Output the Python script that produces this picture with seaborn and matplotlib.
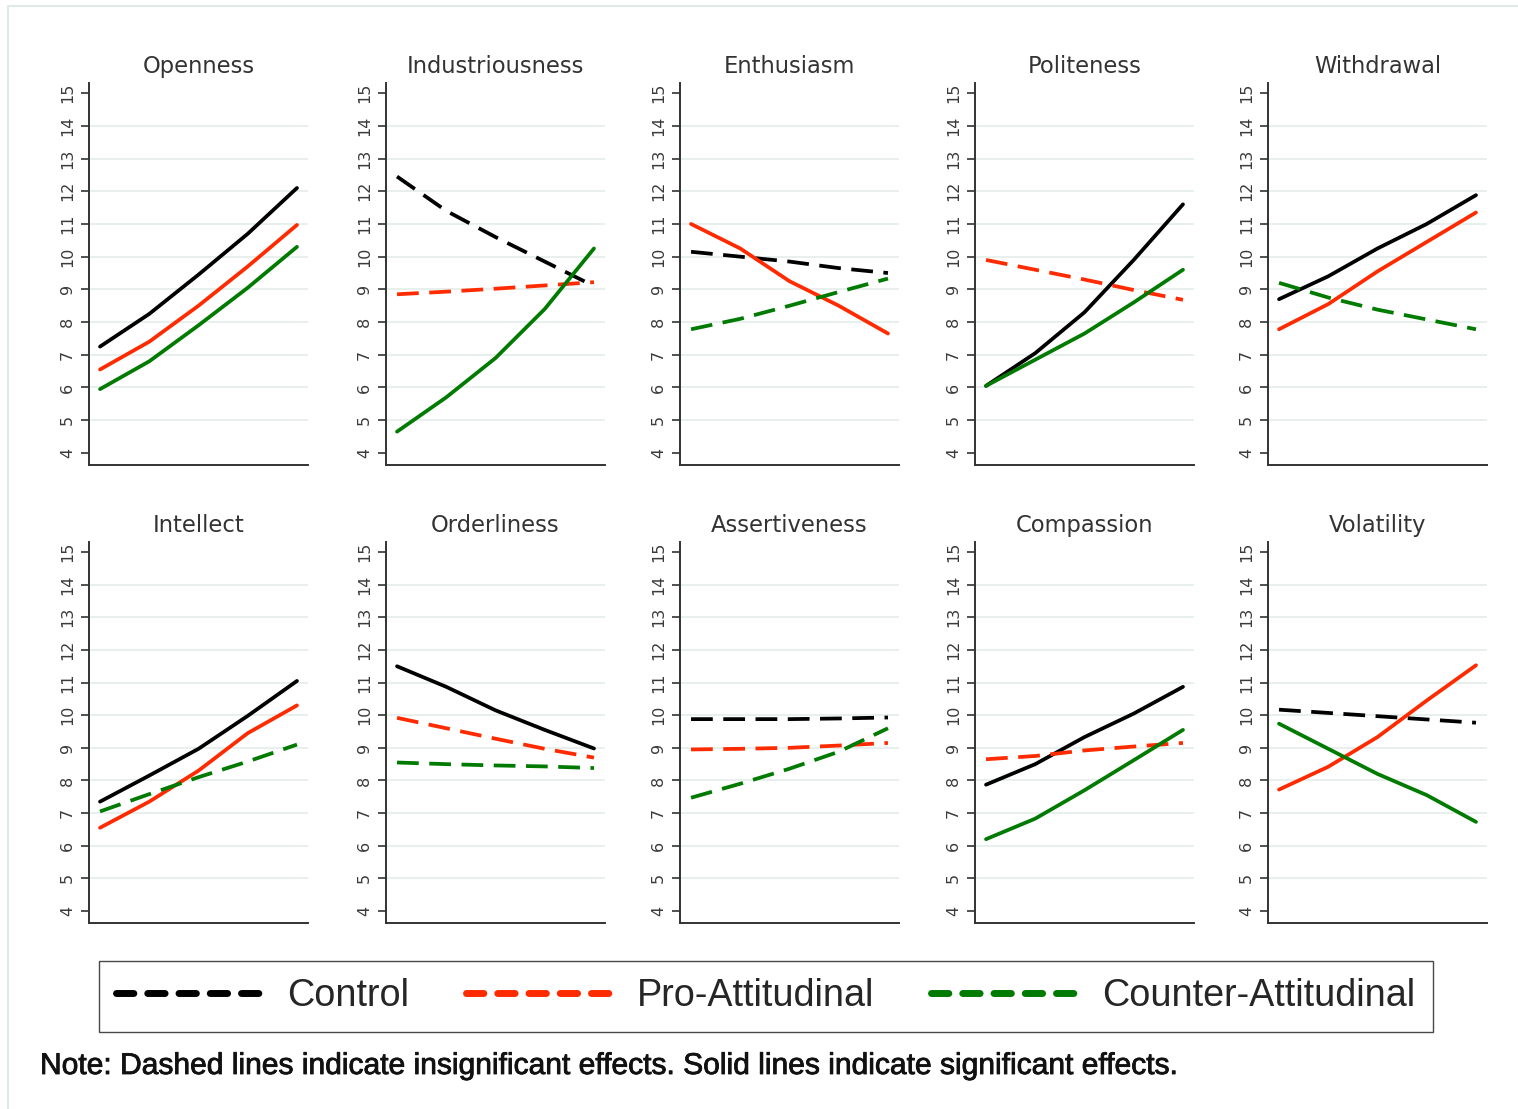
import matplotlib
matplotlib.use("Agg")
import matplotlib.pyplot as plt
import matplotlib.patheffects as pe
from matplotlib.lines import Line2D
from matplotlib.patches import Rectangle
from matplotlib.font_manager import FontProperties
import pandas as pd
import seaborn as sns

# ---------------------------------------------------------------- data
traits = ["Openness", "Industriousness", "Enthusiasm", "Politeness", "Withdrawal",
          "Intellect", "Orderliness", "Assertiveness", "Compassion", "Volatility"]
groups = ["Control", "Pro-Attitudinal", "Counter-Attitudinal"]
x_levels = [0.0, 0.25, 0.5, 0.75, 1.0]
y_ticks = list(range(4, 16))

control = {
    "Openness":        [7.25, 8.25, 9.45, 10.70, 12.10],
    "Industriousness": [12.45, 11.40, 10.60, 9.85, 9.10],
    "Enthusiasm":      [10.15, 10.00, 9.85, 9.65, 9.50],
    "Politeness":      [6.05, 7.05, 8.30, 9.90, 11.60],
    "Withdrawal":      [8.70, 9.40, 10.25, 11.00, 11.88],
    "Intellect":       [7.35, 8.15, 8.97, 9.98, 11.05],
    "Orderliness":     [11.50, 10.87, 10.15, 9.55, 8.98],
    "Assertiveness":   [9.88, 9.88, 9.88, 9.90, 9.93],
    "Compassion":      [7.87, 8.50, 9.33, 10.05, 10.87],
    "Volatility":      [10.17, 10.07, 9.97, 9.87, 9.77],
}
pro_attitudinal = {
    "Openness":        [6.55, 7.40, 8.50, 9.70, 10.97],
    "Industriousness": [8.85, 8.93, 9.02, 9.12, 9.22],
    "Enthusiasm":      [11.00, 10.25, 9.25, 8.50, 7.65],
    "Politeness":      [9.90, 9.60, 9.30, 8.98, 8.68],
    "Withdrawal":      [7.78, 8.55, 9.55, 10.45, 11.35],
    "Intellect":       [6.55, 7.35, 8.30, 9.45, 10.30],
    "Orderliness":     [9.92, 9.60, 9.28, 8.97, 8.70],
    "Assertiveness":   [8.95, 8.97, 9.00, 9.07, 9.15],
    "Compassion":      [8.65, 8.75, 8.92, 9.04, 9.15],
    "Volatility":      [7.72, 8.42, 9.33, 10.45, 11.53],
}
counter_attitudinal = {
    "Openness":        [5.95, 6.80, 7.90, 9.05, 10.30],
    "Industriousness": [4.65, 5.70, 6.90, 8.40, 10.25],
    "Enthusiasm":      [7.78, 8.10, 8.50, 8.92, 9.33],
    "Politeness":      [6.05, 6.85, 7.65, 8.60, 9.60],
    "Withdrawal":      [9.20, 8.75, 8.38, 8.08, 7.78],
    "Intellect":       [7.05, 7.58, 8.10, 8.58, 9.10],
    "Orderliness":     [8.55, 8.50, 8.46, 8.43, 8.38],
    "Assertiveness":   [7.47, 7.90, 8.36, 8.88, 9.60],
    "Compassion":      [6.20, 6.83, 7.70, 8.62, 9.55],
    "Volatility":      [9.74, 8.97, 8.20, 7.55, 6.73],
}
# effect significance per trait, ordered (Control, Pro, Counter)
significant = {
    "Openness":        (True, True, True),
    "Industriousness": (False, False, True),
    "Enthusiasm":      (False, True, False),
    "Politeness":      (True, False, True),
    "Withdrawal":      (True, True, False),
    "Intellect":       (True, True, False),
    "Orderliness":     (True, False, False),
    "Assertiveness":   (False, False, False),
    "Compassion":      (True, False, True),
    "Volatility":      (False, True, True),
}

palette = {"Control": "#000000", "Pro-Attitudinal": "#ff2b00",
           "Counter-Attitudinal": "#007a00"}
dash_map = {"significant": "", "insignificant": (5.8, 2.8)}

# ---------------------------------------------------------------- style
sns.set_theme(style="white")
plt.rcParams["font.family"] = ["DejaVu Sans"]

W, H = 1518, 1109
fig = plt.figure(figsize=(W / 100, H / 100), dpi=100)
fig.patch.set_facecolor("white")

col_left = [89, 386, 680, 975, 1268]
ax_width = 219
row_span = [(83, 465), (542, 923)]

for i, trait in enumerate(traits):
    row, col = divmod(i, 5)
    top, bottom = row_span[row]
    ax = fig.add_axes([col_left[col] / W, 1 - bottom / H,
                       ax_width / W, (bottom - top) / H])

    series = [control[trait], pro_attitudinal[trait], counter_attitudinal[trait]]
    frame = pd.DataFrame({
        "x": x_levels * 3,
        "y": [v for s in series for v in s],
        "group": [g for g in groups for _ in x_levels],
        "effect": [("significant" if sig else "insignificant")
                   for sig in significant[trait] for _ in x_levels],
    })
    sns.lineplot(data=frame, x="x", y="y", hue="group", hue_order=groups,
                 style="effect", dashes=dash_map, palette=palette,
                 linewidth=2.7, legend=False, errorbar=None, ax=ax)

    ax.set_xlim(-0.056, 1.056)
    ax.set_ylim(3.63, 15.31)
    ax.set_xticks([])
    ax.set_yticks(y_ticks)
    ax.set_yticklabels([str(t) for t in y_ticks], rotation=90, va="center",
                       fontsize=11.5, color="#3a3a3a")
    ax.tick_params(axis="y", left=True, length=6, width=1.2, color="#333333",
                   pad=4)
    ax.set_xlabel("")
    ax.set_ylabel("")
    ax.grid(axis="y", color="#e6efec", linewidth=1.3)
    ax.grid(axis="x", visible=False)
    grid_lines = ax.get_ygridlines()
    grid_lines[0].set_visible(False)
    grid_lines[-1].set_visible(False)
    ax.set_axisbelow(True)
    for side in ("top", "right"):
        ax.spines[side].set_visible(False)
    for side in ("left", "bottom"):
        ax.spines[side].set_color("#333333")
        ax.spines[side].set_linewidth(1.4)
    ax.set_title(trait, fontsize=16.3, color="#333333", pad=7)

# ---------------------------------------------------------------- legend
handles = [Line2D([0], [0], color=palette[g], lw=5,
                  linestyle=(0, (2.5, 2.0)), dash_capstyle="round")
           for g in groups]
leg = fig.legend(handles, groups, loc="center left",
                 bbox_to_anchor=(99 / W, 1 - 996.5 / H),
                 ncol=3, frameon=True, fancybox=False,
                 edgecolor="#1a1a1a", facecolor="white",
                 prop=FontProperties(family="Liberation Sans", size=27.2),
                 handlelength=3.97, handletextpad=0.56, columnspacing=1.5,
                 borderpad=0.46, borderaxespad=0)
leg.get_frame().set_linewidth(1.0)

note = fig.text(40 / W, 1 - 1066 / H,
                "Note: Dashed lines indicate insignificant effects. "
                "Solid lines indicate significant effects.",
                ha="left", va="center", fontsize=21.6, family="Liberation Sans",
                color="#111111")
note.set_path_effects([pe.withStroke(linewidth=0.6, foreground="#111111")])

# light outer frame of the figure panel
fig.add_artist(Rectangle((8 / W, -0.05), 1.2, 1.05 - 6 / H,
                         transform=fig.transFigure, fill=False,
                         edgecolor="#dfe9e6", linewidth=1.5))

fig.savefig("out.png", dpi=100, facecolor="white")
